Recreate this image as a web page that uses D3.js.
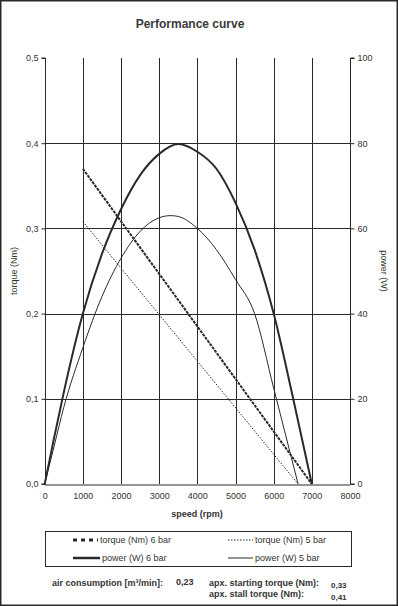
<!DOCTYPE html>
<html><head><meta charset="utf-8">
<script src="https://cdn.jsdelivr.net/npm/d3@7"></script>
<style>body{margin:0;background:#fff}svg{display:block;font-family:"Liberation Sans",Arial,sans-serif}</style>
</head><body><svg id="c" width="398" height="606"></svg>
<script>
const title = "Performance curve";
const xTicks = [0,1000,2000,3000,4000,5000,6000,7000,8000];
const yLeftTicks = [0,0.1,0.2,0.3,0.4,0.5];
const yRightTicks = [0,20,40,60,80,100];
const torque6Speed = [1000,7000];
const torque6Value = [0.37,0];
const torque5Speed = [1000,6640];
const torque5Value = [0.308,0];
const power6Speed = [0,250,500,1000,1500,2000,2500,3000,3500,4000,4500,5000,5500,6000,6500,7000];
const power6Value = [0,11,21.5,40,54,64.5,72.5,77.5,79.8,78,74,66,55,40,20.5,0];
const power5Speed = [0,250,500,1000,1500,2000,2500,3000,3300,3500,4000,4500,5000,5500,6000,6640];
const power5Value = [0,9,18,32,44,53,59.3,62.5,63,62.8,60,55,48,40,22.5,0];
const legendLabels = ["torque (Nm) 6 bar","torque (Nm) 5 bar","power (W) 6 bar","power (W) 5 bar"];
const infoLabels = ["air consumption [m³/min]:","apx. starting torque (Nm):","apx. stall torque (Nm):"];
const infoValues = ["0,23","0,33","0,41"];

const svg = d3.select("#c");
const ink = "#2a2a2a";
svg.append("rect").attr("x",0.75).attr("y",0.75).attr("width",396.5).attr("height",604.5)
  .attr("fill","none").attr("stroke",ink).attr("stroke-width",1.5);

const x = d3.scaleLinear().domain([0,8000]).range([44.7,350]);
const yL = d3.scaleLinear().domain([0,0.5]).range([484,58]);
const yR = d3.scaleLinear().domain([0,100]).range([484,58]);
const fmt = d3.format(".1f");
const comma = v => fmt(v).replace(".",",");

svg.append("text").attr("x",190).attr("y",28).attr("text-anchor","middle")
  .attr("font-size",12).attr("font-weight","bold").attr("fill","#3a3a3a").text(title);

// grid
const g = svg.append("g");
g.selectAll(".vg").data(xTicks.slice(1,-1)).join("line")
  .attr("x1",d=>Math.round(x(d))+0.5).attr("x2",d=>Math.round(x(d))+0.5)
  .attr("y1",yL(0.5)).attr("y2",yL(0)).attr("stroke",ink).attr("stroke-width",1);
g.selectAll(".hg").data(yLeftTicks.slice(1,-1)).join("line")
  .attr("x1",x(0)).attr("x2",x(8000))
  .attr("y1",d=>Math.round(yL(d))+0.5).attr("y2",d=>Math.round(yL(d))+0.5).attr("stroke",ink).attr("stroke-width",1);

// axes
const axL = d3.axisLeft(yL).tickValues(yLeftTicks).tickSize(4).tickFormat(comma);
const axR = d3.axisRight(yR).tickValues(yRightTicks).tickSize(4).tickFormat(d3.format("d"));
const axB = d3.axisBottom(x).tickValues(xTicks).tickSize(0).tickPadding(8).tickFormat(d3.format("d"));
function style(sel){
  sel.select(".domain").attr("stroke",ink);
  sel.selectAll(".tick line").attr("stroke",ink);
  sel.selectAll("text").attr("font-size",9).attr("fill","#333").attr("font-family","'Liberation Sans',Arial,sans-serif");
}
svg.append("g").attr("transform",`translate(${Math.round(x(0))+0.5},0)`).call(axL).call(style)
  .call(s=>s.select(".domain").attr("d",`M-4,${yL(0.5)}H0V${yL(0)}H-4`));
svg.append("g").attr("transform",`translate(${Math.round(x(8000))+0.5},0)`).call(axR).call(style)
  .call(s=>s.select(".domain").attr("d",`M4,${yR(100)}H0V${yR(0)}H4`));
svg.append("g").attr("transform",`translate(0,${Math.round(yL(0))+0.5})`).call(axB).call(style);

svg.append("text").attr("x",197).attr("y",517).attr("text-anchor","middle").attr("font-size",9)
  .attr("font-weight","bold").attr("fill","#333").text("speed (rpm)");
svg.append("text").attr("transform","translate(17,271) rotate(-90)").attr("text-anchor","middle")
  .attr("font-size",9).attr("fill","#333").text("torque (Nm)");
svg.append("text").attr("transform","translate(381,271) rotate(90)").attr("text-anchor","middle")
  .attr("font-size",9).attr("fill","#333").text("power (W)");

// lines
const lineT = d3.line().x(d=>x(d[0])).y(d=>yL(d[1]));
const lineP = d3.line().x(d=>x(d[0])).y(d=>yR(d[1])).curve(d3.curveMonotoneX);
const zip = (a,b)=>a.map((v,i)=>[v,b[i]]);
svg.append("path").attr("d",lineP(zip(power5Speed,power5Value))).attr("fill","none").attr("stroke",ink).attr("stroke-width",1);
svg.append("path").attr("d",lineP(zip(power6Speed,power6Value))).attr("fill","none").attr("stroke",ink).attr("stroke-width",2);
svg.append("path").attr("d",lineT(zip(torque5Speed,torque5Value))).attr("fill","none").attr("stroke",ink).attr("stroke-width",1).attr("stroke-dasharray","1.5,1.5");
svg.append("path").attr("d",lineT(zip(torque6Speed,torque6Value))).attr("fill","none").attr("stroke",ink).attr("stroke-width",2).attr("stroke-dasharray","3,1");

// legend
svg.append("rect").attr("x",45.5).attr("y",531.5).attr("width",306).attr("height",35)
  .attr("fill","none").attr("stroke",ink).attr("stroke-width",1);
const legItems = [
  {x1:73,x2:98,y:540,w:3,dash:"4,4"},
  {x1:228,x2:253,y:540,w:1,dash:"1.5,1.5"},
  {x1:73,x2:100,y:558,w:2.5,dash:null},
  {x1:228,x2:253,y:558,w:1,dash:null}
];
legItems.forEach((it,i)=>{
  svg.append("line").attr("x1",it.x1).attr("x2",it.x2).attr("y1",it.y).attr("y2",it.y)
    .attr("stroke",ink).attr("stroke-width",it.w).attr("stroke-dasharray",it.dash);
  svg.append("text").attr("x",it.x2+2).attr("y",it.y+3.2).attr("font-size",9).attr("fill","#333").text(legendLabels[i]);
});

// info
const info = [
  {x:52,y:586,vx:176,vy:585},
  {x:209,y:586,vx:331,vy:588},
  {x:209,y:597,vx:331,vy:600}
];
info.forEach((p,i)=>{
  svg.append("text").attr("x",p.x).attr("y",p.y).attr("font-size",9).attr("font-weight","bold").attr("fill","#333").text(infoLabels[i]);
  svg.append("text").attr("x",p.vx).attr("y",p.vy).attr("font-size",i==0?9:8).attr("font-weight","bold").attr("fill","#333").text(infoValues[i]);
});
</script></body></html>
